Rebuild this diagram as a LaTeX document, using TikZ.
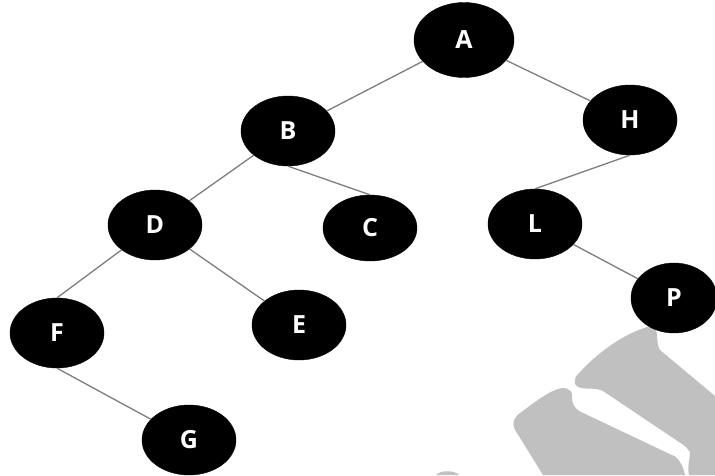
\documentclass[tikz,border=0pt]{standalone}
\usepackage{fontspec}
\setmainfont{Open Sans}
\usetikzlibrary{shapes.geometric}
\definecolor{wm}{RGB}{192,192,192}
\definecolor{edgec}{RGB}{125,125,125}
\tikzset{
  tnode/.style={ellipse, fill=black, draw=black, inner sep=0pt,
    minimum width=94pt, minimum height=70pt, text=white,
    font=\fontsize{25}{27}\selectfont\bfseries},
  tedge/.style={draw=edgec, line width=1.3pt}
}
\begin{document}
\begin{tikzpicture}[x=1pt,y=-1pt]
\useasboundingbox (0,0) rectangle (715,475);
% watermark shapes
\fill[wm] (652,326) .. controls (660,330) and (655,342) .. (660,350)
  -- (715,396) -- (715,475) -- (689,475)
  .. controls (687,468) and (690,458) .. (690,452)
  .. controls (686,446) and (682,444) .. (679,442)
  -- (603,391) .. controls (595,387) and (585,390) .. (578,387)
  .. controls (572,383) and (575,376) .. (580,372)
  .. controls (600,350) and (630,330) .. (652,326) -- cycle;
\fill[wm] (562,388) .. controls (570,388) and (573,392) .. (572,398)
  .. controls (572,404) and (575,408) .. (579,411)
  -- (676,457) .. controls (680,461) and (684,468) .. (685,475)
  -- (543,475) -- (517,433)
  .. controls (511,425) and (513,418) .. (520,413)
  .. controls (535,402) and (550,390) .. (562,388) -- cycle;
\fill[wm] (436,475) .. controls (440,470) and (455,470) .. (459,475) -- cycle;
% nodes
\node[tnode, minimum width=100pt, minimum height=75pt] (A) at (464,40) {A};
\node[tnode] (B) at (288,131) {B};
\node[tnode] (H) at (630,120) {H};
\node[tnode] (D) at (155,225) {D};
\node[tnode, minimum height=66pt] (C) at (370,228) {C};
\node[tnode] (L) at (535,224) {L};
\node[tnode] (F) at (57,333) {F};
\node[tnode] (E) at (299,325) {E};
\node[tnode, minimum width=86pt] (P) at (674,298) {P};
\node[tnode] (G) at (189,440) {G};
% edges
\draw[tedge] (A) -- (B);
\draw[tedge] (A) -- (H);
\draw[tedge] (B) -- (D);
\draw[tedge] (B.south) -- (C.north);
\draw[tedge] (H.south) -- (L.north);
\draw[tedge] (D) -- (F.north);
\draw[tedge] (D) -- (E);
\draw[tedge] (L) -- (P);
\draw[tedge] (F.south) -- (G);
\end{tikzpicture}
\end{document}
